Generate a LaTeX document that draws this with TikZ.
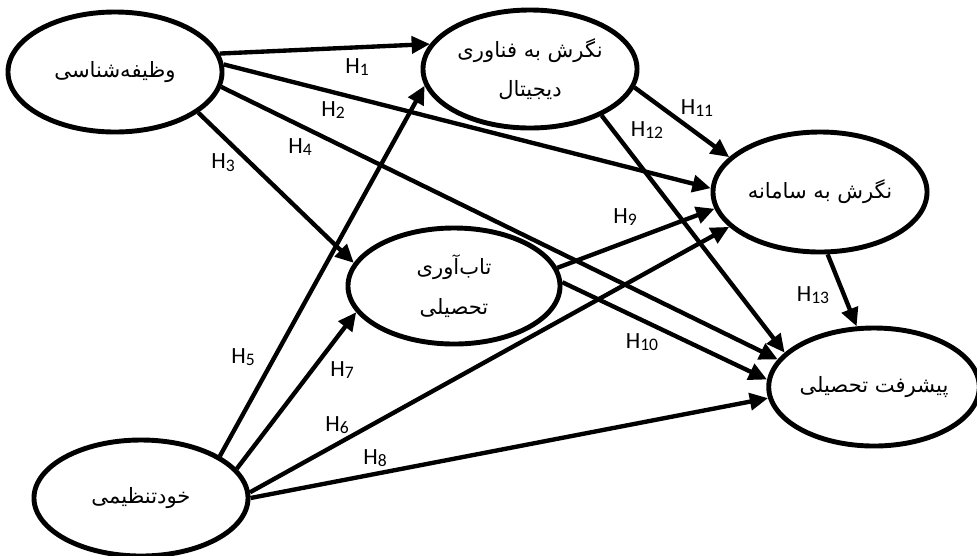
\documentclass[tikz,border=0pt]{standalone}
\usepackage{fontspec}
\usepackage{graphicx}
\setmainfont{Carlito}
\newfontfamily\arabicfont[Script=Arabic]{DejaVu Sans}
\TeXXeTstate=1
\usetikzlibrary{shapes.geometric,arrows.meta}
\newcommand\hlab[1]{H\raisebox{-0.12em}{\fontsize{12.5}{14}\selectfont #1}}
\begin{document}
\begin{tikzpicture}[x=0.025cm,y=-0.025cm,
  latent/.style={ellipse,draw,line width=3.5pt,inner sep=0pt,
    font=\arabicfont\fontsize{15}{28}\selectfont,align=center},
  hyp/.style={line width=3.1pt,-{Triangle[length=13pt,width=12pt]}},
  hl/.style={font=\fontsize{16.5}{18}\selectfont,inner sep=0pt}]
\useasboundingbox (0,0) rectangle (977,555);
\node[latent,minimum width=5.35cm,minimum height=3.0cm] (e1) at (115,72) {\beginR وظیفه‌شناسی\endR};
\node[latent,minimum width=5.35cm,minimum height=2.95cm] (e2) at (530,69) {\beginR نگرش به فناوری\endR\\\beginR دیجیتال\endR};
\node[latent,minimum width=5.35cm,minimum height=3.0cm] (e3) at (820,192) {\beginR نگرش به سامانه\endR};
\node[latent,minimum width=5.3cm,minimum height=2.9cm] (e4) at (454,286) {\beginR تاب‌آوری\endR\\\beginR تحصیلی\endR};
\node[latent,minimum width=4.95cm,minimum height=2.95cm] (e5) at (874,387) {\beginR پیشرفت تحصیلی\endR};
\node[latent,minimum width=5.35cm,minimum height=2.9cm] (e6) at (141,498) {\beginR خودتنظیمی\endR};

\draw[hyp] (e1.10) -- (e2.166);
\draw[hyp] (e1.4) -- (e3.178);
\draw[hyp] (e1.-26) -- (e4.167);
\draw[hyp] (e1.-8) -- (e5.164);
\draw[hyp] (e6.28) -- (e2.-171);
\draw[hyp] (e6.3) -- (e3.-159);
\draw[hyp] (e6.17) -- (e4.-165);
\draw[hyp] (e6.0) -- (e5.-174);
\draw[hyp] (e4.10) -- (e3.-171);
\draw[hyp] (e4.2) -- (e5.176);
\draw[hyp] (e2.-10) -- (e3.159);
\draw[hyp] (e2.-33) -- (e5.159);
\draw[hyp] (e3.-83) -- (e5.106);

\node[hl] (l1) at (357,67) {\hlab{1}};
\node[hl] (l2) at (333,110) {\hlab{2}};
\node[hl] (l3) at (223,163) {\hlab{3}};
\node[hl] (l4) at (300,147) {\hlab{4}};
\node[hl] (l5) at (243,357) {\hlab{5}};
\node[hl] (l6) at (337,425) {\hlab{6}};
\node[hl] (l7) at (342,370) {\hlab{7}};
\node[hl] (l8) at (375,458) {\hlab{8}};
\node[hl] (l9) at (625,217) {\hlab{9}};
\node[hl] (l10) at (642,342) {\hlab{10}};
\node[hl] (l11) at (697,108) {\hlab{11}};
\node[hl] (l12) at (647,130) {\hlab{12}};
\node[hl] (l13) at (813,295) {\hlab{13}};
\end{tikzpicture}
\end{document}
